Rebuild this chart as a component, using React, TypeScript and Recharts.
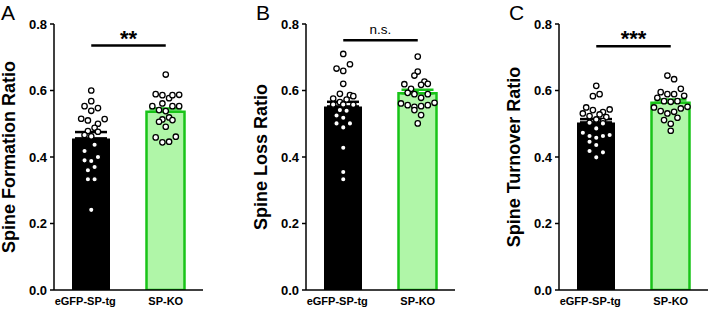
import * as React from 'react';
import { ComposedChart, Bar, Scatter, XAxis, YAxis, ErrorBar, ReferenceLine } from 'recharts';

// shared categories / ticks
const groups = ['eGFP-SP-tg', 'SP-KO'];
const yTicks = [0, 0.2, 0.4, 0.6, 0.8];

// A: spine formation
const formationMeans = [0.456, 0.536];
const formationSem = [0.019, 0.01];
const formationTg = [0.6, 0.568, 0.553, 0.547, 0.539, 0.515, 0.514, 0.51, 0.5, 0.488, 0.478, 0.476, 0.466, 0.462, 0.437, 0.418, 0.4, 0.39, 0.388, 0.37, 0.36, 0.333, 0.333, 0.241];
const formationTgCol = [0, 0, -2, 2, 0, -3, 4, -1, 2, 1, -1, 2, -2, 0, 1, -2, 2, -2, 0, 1, -1, -1, 1, 0];
const formationKo = [0.648, 0.589, 0.586, 0.577, 0.586, 0.587, 0.561, 0.553, 0.553, 0.553, 0.541, 0.538, 0.519, 0.513, 0.506, 0.511, 0.491, 0.459, 0.444, 0.446, 0.461];
const formationKoCol = [0, -3, -1, 1, 2, 4, -1, -4, 2, 4, -2, 0, 1, -1, -2, 2, 0, -3, -1, 1, 3];

// B: spine loss
const lossMeans = [0.552, 0.592];
const lossSem = [0.014, 0.01];
const lossTg = [0.71, 0.679, 0.666, 0.659, 0.62, 0.59, 0.586, 0.583, 0.576, 0.573, 0.565, 0.558, 0.557, 0.558, 0.541, 0.539, 0.525, 0.518, 0.501, 0.501, 0.489, 0.428, 0.355, 0.333];
const lossTgCol = [0, 2, -2, 0, 0, -1, 2, 3, -3, 1, -1, -3, 3, 0, -1, 1, -2, 0, -2, 2, 0, 0, 0, 0];
const lossKo = [0.702, 0.657, 0.645, 0.627, 0.617, 0.62, 0.619, 0.605, 0.593, 0.589, 0.589, 0.578, 0.561, 0.556, 0.551, 0.553, 0.556, 0.563, 0.541, 0.526, 0.501];
const lossKoCol = [0, 0, -1, 2, 1, 3, -4, -2, -3, -1, 3, 1, -5, -3, -1, 1, 3, 5, -1, 1, 0];

// C: spine turnover
const turnoverMeans = [0.504, 0.563];
const turnoverSem = [0.01, 0.01];
const turnoverTg = [0.614, 0.583, 0.589, 0.549, 0.541, 0.543, 0.531, 0.535, 0.523, 0.528, 0.52, 0.513, 0.508, 0.503, 0.501, 0.486, 0.473, 0.463, 0.458, 0.463, 0.466, 0.446, 0.436, 0.418, 0.414, 0.399];
const turnoverTgCol = [0, -1, 1, -3, -1, 4, -4, 2, -2, 1, 3, 0, 2, -2, 2, 0, -4, -2, 0, 2, 4, -2, 0, -2, 2, 0];
const turnoverKo = [0.645, 0.634, 0.595, 0.589, 0.589, 0.605, 0.578, 0.584, 0.568, 0.566, 0.568, 0.549, 0.538, 0.531, 0.536, 0.546, 0.551, 0.511, 0.518, 0.5, 0.479];
const turnoverKoCol = [-1, 1, -3, -1, 1, 3, -4, 4, -2, 0, 2, -5, -3, -1, 1, 3, 5, -2, 2, 0, 0];

const GREEN_FILL = '#b0f6a8';
const GREEN_STROKE = '#18c418';
const COL_STEP = 0.045; // one jitter column, in category units

const Dot = (props: any) => (
  <circle cx={props.cx} cy={props.cy} r={2.7} fill="#fff" stroke="#000" strokeWidth={1.3} />
);

const GroupTick = ({ x, y, payload, index }: any) => (
  <text x={x} y={y} dx={index === 0 ? -6 : 0} dy={15} textAnchor="middle" fontSize={11} fontWeight="bold" fill="#000">
    {payload.value}
  </text>
);

interface PanelProps {
  letter: string;
  letterX: number;
  yLabel: string;
  means: number[];
  sem: number[];
  tg: number[];
  tgCol: number[];
  ko: number[];
  koCol: number[];
  sig: string;
  sigY: number;
}

const Panel: React.FC<PanelProps> = ({ letter, letterX, yLabel, means, sem, tg, tgCol, ko, koCol, sig, sigY }) => {
  const rows = [
    { name: groups[0], a: means[0], ea: [0, sem[0]] },
    { name: groups[1], b: means[1], eb: [0, sem[1]] },
  ];
  const dots = [
    ...tg.map((v, i) => ({ x: 0.5 + tgCol[i] * COL_STEP, v })),
    ...ko.map((v, i) => ({ x: 1.5 + koCol[i] * COL_STEP, v })),
  ];
  const stars = sig !== 'n.s.';

  return (
    <div style={{ position: 'relative', width: 203, height: 310 }}>
      <div style={{ position: 'absolute', left: letterX, top: 2, fontSize: 21, lineHeight: '21px' }}>{letter}</div>
      <ComposedChart width={203} height={310} data={rows} margin={{ top: 24, right: 0, bottom: 0, left: 0 }} barSize={38} barGap={-38}>
        <XAxis
          dataKey="name"
          height={20}
          tickLine={false}
          tickSize={0}
          tickMargin={0}
          axisLine={{ stroke: '#000', strokeWidth: 1.5 }}
          tick={<GroupTick />}
          interval={0}
        />
        <XAxis xAxisId="j" type="number" dataKey="x" domain={[0, 2]} allowDataOverflow hide />
        <YAxis
          dataKey="v"
          type="number"
          domain={[0, 0.8]}
          ticks={yTicks}
          allowDataOverflow
          width={54}
          tickSize={4}
          tickMargin={3}
          tickFormatter={(t: number) => t.toFixed(1)}
          tick={{ fontSize: 13, fontWeight: 'bold', fill: '#000' }}
          axisLine={{ stroke: '#000', strokeWidth: 1.5 }}
          tickLine={{ stroke: '#000', strokeWidth: 1.5 }}
          label={{ value: yLabel, angle: -90, position: 'insideLeft', offset: 9, style: { textAnchor: 'middle', fontSize: 18, fontWeight: 'bold', fill: '#000' } }}
        />
        <Bar dataKey="a" fill="#000" isAnimationActive={false}>
          <ErrorBar dataKey="ea" width={16} stroke="#000" strokeWidth={2.5} />
        </Bar>
        <Bar dataKey="b" fill={GREEN_FILL} stroke={GREEN_STROKE} strokeWidth={2.5} isAnimationActive={false}>
          <ErrorBar dataKey="eb" width={16} stroke={GREEN_STROKE} strokeWidth={2.5} />
        </Bar>
        <ReferenceLine
          segment={[{ x: groups[0], y: sigY }, { x: groups[1], y: sigY }]}
          stroke="#000"
          strokeWidth={2.5}
          label={{
            value: sig,
            position: 'top',
            offset: stars ? 0 : 6,
            fontSize: stars ? 22 : 13.5,
            fontWeight: stars ? 'bold' : 'normal',
            fill: '#000',
          }}
        />
        <Scatter xAxisId="j" data={dots} dataKey="v" shape={<Dot />} isAnimationActive={false} />
      </ComposedChart>
    </div>
  );
};

export default function App() {
  return (
    <div style={{ position: 'absolute', left: 0, top: 0, width: 708, height: 310, background: '#fff', fontFamily: '"Liberation Sans", Arial, sans-serif' }}>
      <div style={{ position: 'absolute', left: 0, top: 0 }}>
        <Panel letter="A" letterX={1} yLabel="Spine Formation Ratio" means={formationMeans} sem={formationSem}
          tg={formationTg} tgCol={formationTgCol} ko={formationKo} koCol={formationKoCol} sig="**" sigY={0.735} />
      </div>
      <div style={{ position: 'absolute', left: 252, top: 0 }}>
        <Panel letter="B" letterX={4} yLabel="Spine Loss Ratio" means={lossMeans} sem={lossSem}
          tg={lossTg} tgCol={lossTgCol} ko={lossKo} koCol={lossKoCol} sig="n.s." sigY={0.751} />
      </div>
      <div style={{ position: 'absolute', left: 505, top: 0 }}>
        <Panel letter="C" letterX={4} yLabel="Spine Turnover Ratio" means={turnoverMeans} sem={turnoverSem}
          tg={turnoverTg} tgCol={turnoverTgCol} ko={turnoverKo} koCol={turnoverKoCol} sig="***" sigY={0.733} />
      </div>
    </div>
  );
}
